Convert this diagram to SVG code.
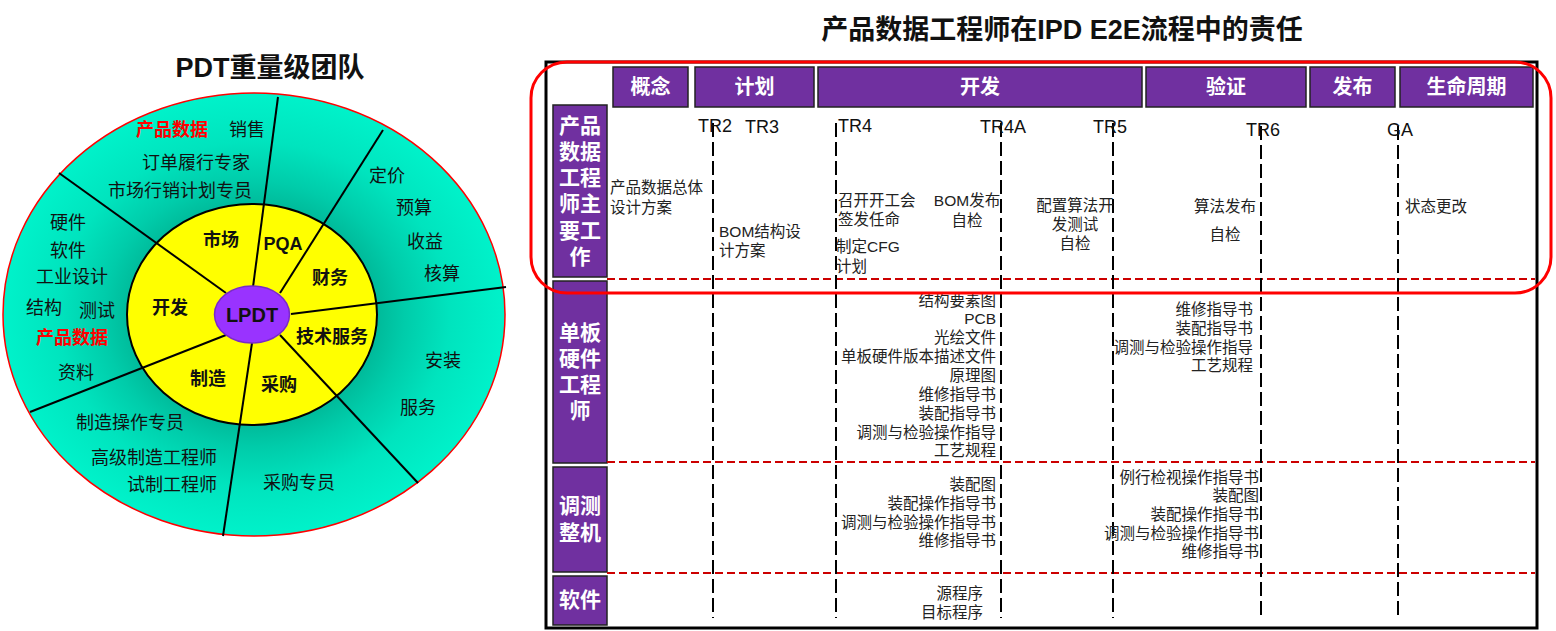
<svg xmlns="http://www.w3.org/2000/svg" width="1556" height="631" viewBox="0 0 1556 631">
<style>
text{font-family:"Liberation Sans","Noto Sans CJK SC",sans-serif;fill:#111}
.ttl{font-size:27px;font-weight:bold;text-anchor:middle}
.in{font-size:18px;font-weight:bold;text-anchor:middle}
.out{font-size:18px;text-anchor:middle}
.red{font-size:18px;font-weight:bold;fill:#FF0000;text-anchor:middle}
.rad{stroke:#000;stroke-width:2;fill:none}
.ph{fill:#7030A0;stroke:#222;stroke-width:1.5}
.pht{font-size:20px;font-weight:bold;fill:#fff;text-anchor:middle}
.rh{font-size:21px;font-weight:bold;fill:#fff;text-anchor:middle}
.tr{font-size:18px}
.c{font-size:15.5px;fill:#222}
.r{font-size:15.5px;fill:#222;text-anchor:end}
.m{font-size:15.5px;fill:#222;text-anchor:middle}
.vd{stroke:#000;stroke-width:2;stroke-dasharray:14 5}
.hd{stroke:#CC0000;stroke-width:2;stroke-dasharray:8 4}
</style>
<defs>
<radialGradient id="g" cx="0.5" cy="0.5" r="0.5">
<stop offset="0.48" stop-color="#00B898"/>
<stop offset="0.6" stop-color="#00CCAA"/>
<stop offset="0.78" stop-color="#00E4BE"/>
<stop offset="1" stop-color="#00F2CA"/>
</radialGradient>
</defs>

<g id="left-title"><text class="ttl" x="270" y="77">PDT重量级团队</text></g>

<g id="outer-ring">
<ellipse cx="254" cy="314.5" rx="251" ry="221.5" fill="url(#g)" stroke="#FF0000" stroke-width="1.5"/>
</g>
<g id="inner-ring">
<ellipse cx="252" cy="314.5" rx="125" ry="110.5" fill="#FFFF00" stroke="#000" stroke-width="2"/>
</g>
<g id="connectors">
<line class="rad" x1="253" y1="287" x2="278" y2="97"/>
<line class="rad" x1="226" y1="293" x2="59" y2="173"/>
<line class="rad" x1="280" y1="293" x2="383" y2="130"/>
<line class="rad" x1="291" y1="314" x2="506" y2="287"/>
<line class="rad" x1="280" y1="335" x2="418" y2="483"/>
<line class="rad" x1="252" y1="343" x2="223" y2="536"/>
<line class="rad" x1="226" y1="335" x2="30" y2="412"/>
</g>
<g id="lpdt">
<ellipse cx="252" cy="314.5" rx="37.5" ry="28.5" fill="#9933FF" stroke="#7A2AC8" stroke-width="1.5"/>
<text class="in" x="252" y="321.5" style="font-size:20px">LPDT</text>
</g>
<g id="inner-labels">
<text class="in" x="221" y="246">市场</text>
<text class="in" x="283" y="250">PQA</text>
<text class="in" x="330" y="284">财务</text>
<text class="in" x="170" y="314">开发</text>
<text class="in" x="332" y="343">技术服务</text>
<text class="in" x="208" y="385">制造</text>
<text class="in" x="279" y="391">采购</text>
</g>
<g id="outer-labels">
<text class="red" x="172" y="136">产品数据</text>
<text class="out" x="247" y="136">销售</text>
<text class="out" x="196" y="169">订单履行专家</text>
<text class="out" x="180" y="197">市场行销计划专员</text>
<text class="out" x="387" y="182">定价</text>
<text class="out" x="414" y="214">预算</text>
<text class="out" x="425" y="248">收益</text>
<text class="out" x="442" y="280">核算</text>
<text class="out" x="68" y="229">硬件</text>
<text class="out" x="68" y="257">软件</text>
<text class="out" x="72" y="283">工业设计</text>
<text class="out" x="44" y="314">结构</text>
<text class="out" x="97" y="317">测试</text>
<text class="red" x="72" y="344">产品数据</text>
<text class="out" x="76" y="379">资料</text>
<text class="out" x="443" y="367">安装</text>
<text class="out" x="418" y="414">服务</text>
<text class="out" x="130" y="429">制造操作专员</text>
<text class="out" x="154" y="464">高级制造工程师</text>
<text class="out" x="172" y="491">试制工程师</text>
<text class="out" x="299" y="489">采购专员</text>
</g>

<g id="right-title"><text class="ttl" x="1062" y="39">产品数据工程师在IPD E2E流程中的责任</text></g>

<g id="table-frame">
<rect x="546" y="62" width="991" height="566" fill="#fff" stroke="#000" stroke-width="3"/>
</g>

<g id="phases">
<rect class="ph" x="613" y="67" width="75" height="40"/><text class="pht" x="650.5" y="94">概念</text>
<rect class="ph" x="695" y="67" width="119" height="40"/><text class="pht" x="754.5" y="94">计划</text>
<rect class="ph" x="818" y="67" width="324" height="40"/><text class="pht" x="980" y="94">开发</text>
<rect class="ph" x="1146" y="67" width="160" height="40"/><text class="pht" x="1226" y="94">验证</text>
<rect class="ph" x="1310" y="67" width="85" height="40"/><text class="pht" x="1352.5" y="94">发布</text>
<rect class="ph" x="1400" y="67" width="133" height="40"/><text class="pht" x="1466.5" y="94">生命周期</text>
</g>

<g id="row-headers">
<rect class="ph" x="553" y="105" width="54" height="172"/>
<text class="rh" x="580" y="133">产品</text>
<text class="rh" x="580" y="159">数据</text>
<text class="rh" x="580" y="185">工程</text>
<text class="rh" x="580" y="211">师主</text>
<text class="rh" x="580" y="238">要工</text>
<text class="rh" x="580" y="264">作</text>
<rect class="ph" x="553" y="281" width="54" height="182"/>
<text class="rh" x="580" y="340">单板</text>
<text class="rh" x="580" y="366">硬件</text>
<text class="rh" x="580" y="392">工程</text>
<text class="rh" x="580" y="418">师</text>
<rect class="ph" x="553" y="467" width="54" height="105"/>
<text class="rh" x="580" y="513">调测</text>
<text class="rh" x="580" y="540">整机</text>
<rect class="ph" x="553" y="576" width="54" height="49"/>
<text class="rh" x="580" y="607">软件</text>
</g>

<g id="gridlines">
<line class="hd" x1="607" y1="279" x2="1535" y2="279"/>
<line class="hd" x1="607" y1="462" x2="1535" y2="462"/>
<line class="hd" x1="607" y1="573" x2="1535" y2="573"/>
<line class="vd" x1="713" y1="123" x2="713" y2="618"/>
<line class="vd" x1="836" y1="123" x2="836" y2="618"/>
<line class="vd" x1="1001" y1="123" x2="1001" y2="618"/>
<line class="vd" x1="1113" y1="123" x2="1113" y2="618"/>
<line class="vd" x1="1261" y1="126" x2="1261" y2="618"/>
<line class="vd" x1="1398" y1="126" x2="1398" y2="618"/>
</g>

<g id="milestones">
<text class="tr" x="698" y="132">TR2</text>
<text class="tr" x="745" y="133">TR3</text>
<text class="tr" x="838" y="132">TR4</text>
<text class="tr" x="980" y="133">TR4A</text>
<text class="tr" x="1093" y="133">TR5</text>
<text class="tr" x="1246" y="136">TR6</text>
<text class="tr" x="1387" y="136">GA</text>
</g>

<g id="row1-text">
<text class="c" x="610" y="193">产品数据总体</text>
<text class="c" x="610" y="213">设计方案</text>
<text class="c" x="719" y="237">BOM结构设</text>
<text class="c" x="719" y="256">计方案</text>
<text class="c" x="838" y="206">召开开工会</text>
<text class="c" x="838" y="225">签发任命</text>
<text class="c" x="836" y="252">制定CFG</text>
<text class="c" x="836" y="272">计划</text>
<text class="m" x="967" y="206">BOM发布</text>
<text class="m" x="967" y="226">自检</text>
<text class="m" x="1075" y="211">配置算法开</text>
<text class="m" x="1075" y="230">发测试</text>
<text class="m" x="1075" y="249">自检</text>
<text class="m" x="1225" y="212">算法发布</text>
<text class="m" x="1225" y="240">自检</text>
<text class="c" x="1405" y="212">状态更改</text>
</g>

<g id="row2-text">
<text class="r" x="996" y="306">结构要素图</text>
<text class="r" x="996" y="324">PCB</text>
<text class="r" x="996" y="343">光绘文件</text>
<text class="r" x="996" y="362">单板硬件版本描述文件</text>
<text class="r" x="996" y="381">原理图</text>
<text class="r" x="996" y="400">维修指导书</text>
<text class="r" x="996" y="419">装配指导书</text>
<text class="r" x="996" y="438">调测与检验操作指导</text>
<text class="r" x="996" y="456">工艺规程</text>
<text class="r" x="1253" y="315">维修指导书</text>
<text class="r" x="1253" y="334">装配指导书</text>
<text class="r" x="1253" y="353">调测与检验操作指导</text>
<text class="r" x="1253" y="371">工艺规程</text>
</g>

<g id="row3-text">
<text class="r" x="996" y="490">装配图</text>
<text class="r" x="996" y="509">装配操作指导书</text>
<text class="r" x="996" y="528">调测与检验操作指导书</text>
<text class="r" x="996" y="546">维修指导书</text>
<text class="r" x="1259" y="483">例行检视操作指导书</text>
<text class="r" x="1259" y="501">装配图</text>
<text class="r" x="1259" y="520">装配操作指导书</text>
<text class="r" x="1259" y="539">调测与检验操作指导书</text>
<text class="r" x="1259" y="557">维修指导书</text>
</g>

<g id="row4-text">
<text class="r" x="983" y="599">源程序</text>
<text class="r" x="983" y="618">目标程序</text>
</g>

<g id="highlight">
<rect x="531" y="62" width="1020" height="231" rx="36" ry="36" fill="none" stroke="#FF0000" stroke-width="3"/>
</g>
</svg>
